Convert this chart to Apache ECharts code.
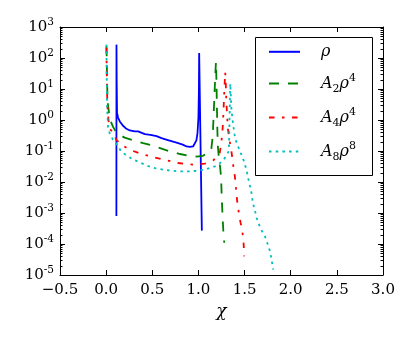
<!DOCTYPE html>
<html>
<head>
<meta charset="utf-8">
<script src="https://cdn.jsdelivr.net/npm/echarts@6/dist/echarts.min.js"></script>
<style>html,body{margin:0;padding:0;background:#fff}#c{width:415px;height:342px}</style>
</head>
<body>
<div id="c"></div>
<script>
// ---------- data ----------
var seriesNames = ['rho', 'A2rho4', 'A4rho4', 'A8rho8'];

var rhoX = [0.111, 0.112, 0.114, 0.118, 0.129, 0.148, 0.183, 0.22, 0.256, 0.274, 0.31, 0.346, 0.364, 0.419, 0.48, 0.546, 0.6, 0.66, 0.726, 0.78, 0.83, 0.871, 0.907, 0.942, 0.961, 0.978, 0.99, 1.0, 1.005, 1.008, 1.037];
var rhoY = [8e-4, 270, 20, 1.7, 1.2, 0.9, 0.65, 0.52, 0.46, 0.44, 0.43, 0.43, 0.41, 0.35, 0.33, 0.3, 0.26, 0.23, 0.2, 0.18, 0.16, 0.14, 0.135, 0.14, 0.16, 0.22, 0.38, 1.2, 8, 145, 2.7e-4];

var a2X = [0.004, 0.008, 0.012, 0.02, 0.035, 0.05, 0.075, 0.1, 0.15, 0.2, 0.3, 0.4, 0.5, 0.6, 0.7, 0.8, 0.9, 0.98, 1.05, 1.09, 1.12, 1.14, 1.155, 1.165, 1.175, 1.185, 1.19, 1.195, 1.2, 1.205, 1.21, 1.22, 1.235, 1.245, 1.255, 1.27, 1.28];
var a2Y = [240, 50, 10, 3, 1.4, 0.9, 0.6, 0.45, 0.33, 0.27, 0.22, 0.18, 0.15, 0.12, 0.095, 0.08, 0.07, 0.066, 0.07, 0.085, 0.09, 0.12, 0.3, 1.5, 8, 40, 75, 20, 3, 0.5, 0.15, 0.066, 0.03, 0.015, 2e-3, 2.5e-4, 1.1e-4];

var a4X = [0.003, 0.006, 0.01, 0.015, 0.025, 0.04, 0.075, 0.11, 0.166, 0.256, 0.383, 0.5, 0.6, 0.7, 0.78, 0.87, 0.96, 1.07, 1.16, 1.2, 1.23, 1.245, 1.26, 1.27, 1.28, 1.29, 1.295, 1.3, 1.31, 1.32, 1.34, 1.36, 1.376, 1.395, 1.42, 1.438, 1.457, 1.474, 1.49, 1.496];
var a4Y = [215, 40, 8, 2.5, 1.0, 0.5, 0.42, 0.23, 0.16, 0.11, 0.08, 0.065, 0.055, 0.047, 0.041, 0.038, 0.036, 0.039, 0.05, 0.065, 0.085, 0.16, 0.4, 1.5, 8, 35, 20, 6, 1.5, 0.5, 0.2, 0.086, 0.036, 0.015, 2.4e-3, 1e-3, 4.8e-4, 2.9e-4, 1e-4, 4e-5];

var a8X = [0.003, 0.005, 0.008, 0.01, 0.02, 0.04, 0.075, 0.1, 0.13, 0.16, 0.2, 0.29, 0.35, 0.45, 0.53, 0.62, 0.71, 0.8, 0.89, 0.98, 1.07, 1.18, 1.23, 1.27, 1.3, 1.33, 1.335, 1.34, 1.345, 1.35, 1.355, 1.36, 1.37, 1.38, 1.39, 1.41, 1.43, 1.45, 1.47, 1.49, 1.52, 1.54, 1.56, 1.575, 1.59, 1.61, 1.63, 1.65, 1.68, 1.72, 1.75, 1.77, 1.79, 1.81];
var a8Y = [270, 50, 10, 2.7, 0.62, 0.35, 0.23, 0.2, 0.14, 0.1, 0.08, 0.053, 0.045, 0.033, 0.028, 0.025, 0.023, 0.022, 0.022, 0.023, 0.025, 0.032, 0.04, 0.05, 0.07, 0.1, 0.5, 3, 15, 8, 3, 1.8, 1.0, 0.6, 0.35, 0.2, 0.14, 0.1, 0.07, 0.05, 0.025, 0.013, 7e-3, 4.4e-3, 2.1e-3, 1.3e-3, 7e-4, 4.7e-4, 2.9e-4, 1.8e-4, 1e-4, 6.6e-5, 3.5e-5, 1.5e-5];

var xTicks = [-0.5, 0.0, 0.5, 1.0, 1.5, 2.0, 2.5, 3.0];
var yMin = 1e-5, yMax = 1e3;

// ---------- build ----------
function pairs(xs, ys) { return xs.map(function (x, i) { return [x, ys[i]]; }); }

var minorVals = [];
for (var e = -5; e < 3; e++) {
  for (var k = 2; k <= 9; k++) minorVals.push([xTicks[0], k * Math.pow(10, e)]);
}

var legendRich = {
  rho: '{g|\u00a0}{i|ρ}',
  A2rho4: '{g|\u00a0}{i|A}{sub|2}{i|ρ}{sup|4}',
  A4rho4: '{g|\u00a0}{i|A}{sub|4}{i|ρ}{sup|4}',
  A8rho8: '{g|\u00a0}{i|A}{sub|8}{i|ρ}{sup|8}'
};

var SERIF = 'DejaVu Serif';
var chart = echarts.init(document.getElementById('c'), null, {renderer: 'canvas'});

var axisLineStyle = {show: true, onZero: false, lineStyle: {color: '#000', width: 1}};

chart.setOption({
  animation: false,
  backgroundColor: '#fff',
  grid: {left: 60, right: 32, top: 27, bottom: 67, containLabel: false},
  xAxis: [{
    type: 'value', position: 'bottom', min: xTicks[0], max: xTicks[xTicks.length - 1], interval: 0.5,
    axisLine: axisLineStyle,
    axisTick: {show: true, inside: true, length: 5, lineStyle: {color: '#000'}},
    splitLine: {show: false},
    axisLabel: {margin: 8, color: '#000', fontFamily: SERIF, fontSize: 15,
      formatter: function (v) { return v.toFixed(1).replace('-', '\u2212'); }},
    name: 'χ', nameLocation: 'middle', nameGap: 26,
    nameTextStyle: {fontFamily: SERIF, fontStyle: 'italic', fontSize: 17, color: '#000'}
  }, {
    type: 'value', position: 'top', min: xTicks[0], max: xTicks[xTicks.length - 1], interval: 0.5,
    axisLine: axisLineStyle,
    axisTick: {show: true, inside: true, length: 5, lineStyle: {color: '#000'}},
    splitLine: {show: false}, axisLabel: {show: false}
  }],
  yAxis: [{
    type: 'log', logBase: 10, position: 'left', min: yMin, max: yMax, splitNumber: 8,
    axisLine: axisLineStyle,
    axisTick: {show: true, inside: true, length: 5, lineStyle: {color: '#000'}},
    splitLine: {show: false},
    axisLabel: {margin: 6, color: '#000',
      formatter: function (v) { return '{b|10}{s|' + Math.round(Math.log10(v)) + '}'; },
      rich: {
        b: {fontFamily: SERIF, fontSize: 15, lineHeight: 20, color: '#000'},
        s: {fontFamily: SERIF, fontSize: 10.5, lineHeight: 10, verticalAlign: 'top', color: '#000'}
      }}
  }, {
    type: 'log', logBase: 10, position: 'right', min: yMin, max: yMax, splitNumber: 8,
    axisLine: axisLineStyle,
    axisTick: {show: true, inside: true, length: 5, lineStyle: {color: '#000'}},
    splitLine: {show: false}, axisLabel: {show: false}
  }],
  legend: {
    show: true, orient: 'vertical', left: 268, top: 43, padding: 0,
    itemWidth: 31, itemHeight: 22, itemGap: 12,
    data: seriesNames,
    itemStyle: {opacity: 0},
    lineStyle: {opacity: 1},
    formatter: function (name) { return legendRich[name]; },
    textStyle: {
      color: '#000',
      rich: {
        g: {width: 16, fontSize: 10},
        i: {fontFamily: SERIF, fontStyle: 'italic', fontSize: 16, lineHeight: 22, color: '#000'},
        sub: {fontFamily: SERIF, fontSize: 11, lineHeight: 12, verticalAlign: 'bottom', color: '#000'},
        sup: {fontFamily: SERIF, fontSize: 11, lineHeight: 12, verticalAlign: 'top', color: '#000'}
      }
    }
  },
  graphic: [{
    type: 'rect', z: 3, silent: true,
    shape: {x: 255.5, y: 37.5, width: 117, height: 138},
    style: {fill: '#fff', stroke: '#000', lineWidth: 1}
  }],
  series: [{
    name: 'rho', type: 'line', symbol: 'none', data: pairs(rhoX, rhoY),
    lineStyle: {color: '#0000ff', width: 1.8}, itemStyle: {color: '#0000ff'}, z: 2
  }, {
    name: 'A2rho4', type: 'line', symbol: 'none', data: pairs(a2X, a2Y),
    lineStyle: {color: '#008000', width: 1.8, type: [10, 9]}, itemStyle: {color: '#008000'}, z: 2
  }, {
    name: 'A4rho4', type: 'line', symbol: 'none', data: pairs(a4X, a4Y),
    lineStyle: {color: '#ff0000', width: 1.8, type: [5.5, 7.5, 2.5, 7.5]}, itemStyle: {color: '#ff0000'}, z: 2
  }, {
    name: 'A8rho8', type: 'line', symbol: 'none', data: pairs(a8X, a8Y),
    lineStyle: {color: '#00bfbf', width: 1.8, type: [2.5, 4.2]}, itemStyle: {color: '#00bfbf'}, z: 2
  }, {
    name: 'minorTicks', type: 'custom', silent: true, clip: false, z: 5,
    data: minorVals,
    renderItem: function (params, api) {
      var v = api.value(1);
      var pL = api.coord([xTicks[0], v]);
      var pR = api.coord([xTicks[xTicks.length - 1], v]);
      var y = Math.round(pL[1]) + 0.5;
      return {type: 'group', children: [
        {type: 'line', shape: {x1: pL[0], y1: y, x2: pL[0] + 2.5, y2: y}, style: {stroke: '#000', lineWidth: 1}},
        {type: 'line', shape: {x1: pR[0] - 2.5, y1: y, x2: pR[0], y2: y}, style: {stroke: '#000', lineWidth: 1}}
      ]};
    }
  }]
});
</script>
</body>
</html>
